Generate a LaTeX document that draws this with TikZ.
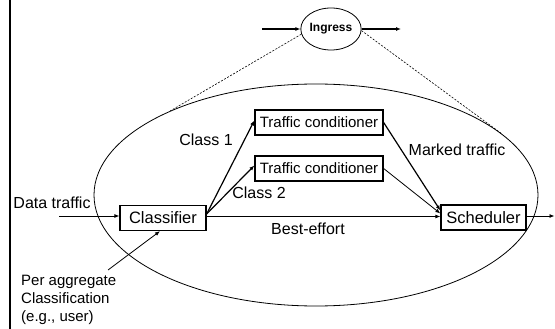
\documentclass[tikz,border=0pt]{standalone}
\usepackage{fontspec}
\setmainfont{Liberation Sans}
\usetikzlibrary{arrows.meta,shapes.geometric}
\tikzset{
  box/.style={draw,line width=1.3pt,inner sep=0pt,minimum height=25pt,font=\fontsize{16.5}{19}\selectfont},
  tcbox/.style={draw,line width=1.3pt,inner sep=0pt,minimum width=128pt,minimum height=25pt,font=\fontsize{15}{18}\selectfont},
  lbl/.style={inner sep=0pt,font=\fontsize{16}{19}\selectfont},
  conn/.style={line width=0.8pt,-{Latex[length=5pt,width=4pt]}},
  thickconn/.style={line width=1.2pt,-{Latex[length=5pt,width=4pt]}},
  dashln/.style={line width=0.6pt,dash pattern=on 2pt off 1.5pt},
}
\begin{document}
\begin{tikzpicture}[x=1pt,y=-1pt]
\useasboundingbox (0,0) rectangle (555,329);
\draw[line width=2pt] (10,0) -- (10,329);
% domain ellipse
\node[draw,ellipse,line width=0.8pt,minimum width=444pt,minimum height=222pt,inner sep=0pt] (domain) at (316,195) {};
% ingress
\node[draw,ellipse,line width=0.8pt,minimum width=48pt,minimum height=42pt,inner sep=0pt,font=\fontsize{12}{14}\bfseries] (ingress) at (331,29) {Ingress};
\coordinate (inA) at (262,29);
\coordinate (inB) at (401,29);
\draw[thickconn] (inA) -- (ingress.west);
\draw[thickconn] (ingress.east) -- (inB);
\draw[dashln] (ingress.190) -- (domain.150);
\draw[dashln] (ingress.357) -- (domain.18);
% boxes
\node[box,minimum width=86pt] (classifier) at (163,218) {Classifier};
\node[box,minimum width=85pt] (scheduler) at (483.5,217.5) {Scheduler};
\node[tcbox] (tc1) at (319,122.5) {Traffic conditioner};
\node[tcbox] (tc2) at (319,168.5) {Traffic conditioner};
% connectors
\coordinate (dtin) at (59,216);
\draw[conn] (dtin) -- (dtin -| classifier.west);
\coordinate (cbr) at ([yshift=4pt]classifier.east);
\draw[thickconn] (cbr) -- ([yshift=2pt]tc1.west);
\draw[thickconn] (cbr) -- ([yshift=3pt]tc2.west);
\coordinate (be) at ([yshift=1.5pt]classifier.east);
\draw[conn] (be) -- (be -| scheduler.west);
\draw[thickconn] (tc1.east) -- ([yshift=7pt]scheduler.west);
\draw[conn] (tc2.east) -- ([yshift=4pt]scheduler.west);
\coordinate (out) at (554.5,216);
\draw[conn] (scheduler.east |- out) -- (out);
\coordinate (pa) at (108,270);
\draw[conn] (pa) -- ([xshift=-3pt]classifier.south);
% labels
\node[lbl] (ldata) at (52,203) {Data traffic};
\node[lbl] (lc1) at (206,140) {Class 1};
\node[lbl] (lc2) at (259,193) {Class 2};
\node[lbl] (lmark) at (457,150) {Marked traffic};
\node[lbl] (lbe) at (308,229) {Best-effort};
\node[inner sep=0pt,anchor=west,align=left,font=\fontsize{15}{18}\selectfont] (lpa) at (21,300) {Per aggregate\\Classification\\(e.g., user)};
\end{tikzpicture}
\end{document}
